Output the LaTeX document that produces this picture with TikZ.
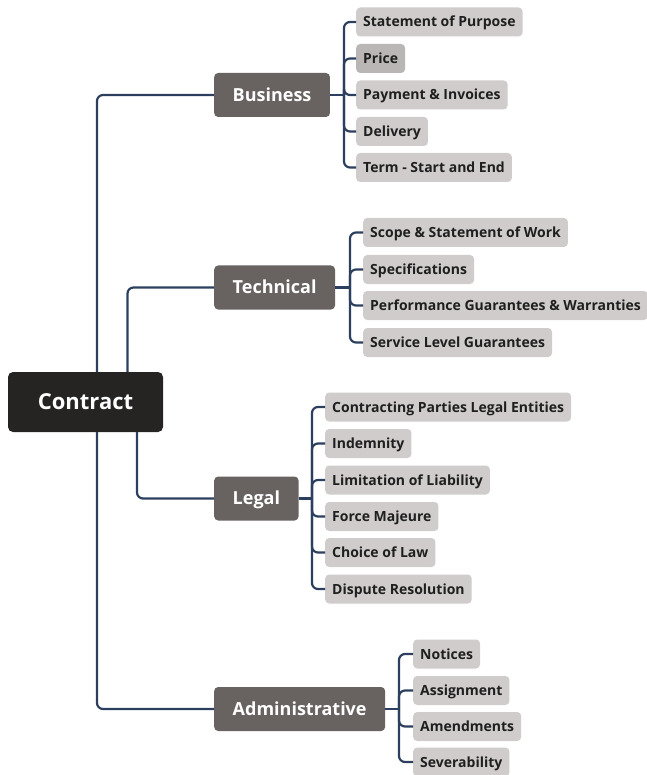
\documentclass[tikz,border=0pt]{standalone}
\usepackage{fontspec}
\setmainfont{Open Sans}
\begin{document}
\definecolor{rootfill}{HTML}{262423}
\definecolor{branchfill}{HTML}{686361}
\definecolor{leaffill}{HTML}{D0CCCB}
\definecolor{leafdark}{HTML}{BAB6B5}
\definecolor{linkcol}{HTML}{2D3F5E}
\definecolor{leaftext}{HTML}{1F1F1F}
\begin{tikzpicture}[x=1pt,y=-1pt,
  rootbox/.style={rectangle, rounded corners=5pt, fill=rootfill, text=white,
    minimum width=155pt, minimum height=60pt, inner sep=0pt,
    text height=15.7pt, text depth=0pt,
    font=\fontsize{22}{26}\selectfont\bfseries},
  branchbox/.style={rectangle, rounded corners=4pt, fill=branchfill, text=white,
    anchor=west, minimum height=44pt, inner xsep=18.5pt, inner ysep=0pt,
    text height=12.9pt, text depth=0pt,
    font=\fontsize{18}{21}\selectfont\bfseries},
  leafbox/.style={rectangle, rounded corners=4pt, fill=leaffill, text=leaftext,
    anchor=west, minimum height=29pt, inner xsep=7pt, inner ysep=0pt,
    text height=10pt, text depth=0pt,
    font=\fontsize{14}{17}\selectfont\bfseries},
  link/.style={draw=linkcol, line width=2.2pt, rounded corners=6pt},
]
\useasboundingbox (0,0) rectangle (646,775);

% root
\node[rootbox] (root) at (85.5,402) {Contract};

% main branches
\node[branchbox] (bus) at (214,95) {Business};
\node[branchbox] (tec) at (214,287.5) {Technical};
\node[branchbox] (leg) at (214,498.5) {Legal};
\node[branchbox] (adm) at (214,709) {Administrative};

% Business topics
\node[leafbox] (b1) at (356,22) {Statement of Purpose};
\node[leafbox, fill=leafdark] (b2) at (356,58.5) {Price};
\node[leafbox] (b3) at (356,95) {Payment \& Invoices};
\node[leafbox] (b4) at (356,131.5) {Delivery};
\node[leafbox] (b5) at (356,167.5) {Term - Start and End};

% Technical topics
\node[leafbox] (t1) at (363,232.5) {Scope \& Statement of Work};
\node[leafbox] (t2) at (363,269.5) {Specifications};
\node[leafbox] (t3) at (363,305.5) {Performance Guarantees \& Warranties};
\node[leafbox] (t4) at (363,342.5) {Service Level Guarantees};

% Legal topics
\node[leafbox] (l1) at (325,407) {Contracting Parties Legal Entities};
\node[leafbox] (l2) at (325,443.5) {Indemnity};
\node[leafbox] (l3) at (325,480) {Limitation of Liability};
\node[leafbox] (l4) at (325,516.5) {Force Majeure};
\node[leafbox] (l5) at (325,552.5) {Choice of Law};
\node[leafbox] (l6) at (325,589) {Dispute Resolution};

% Administrative topics
\node[leafbox] (a1) at (413,654) {Notices};
\node[leafbox] (a2) at (413,690.5) {Assignment};
\node[leafbox] (a3) at (413,726.5) {Amendments};
\node[leafbox] (a4) at (413,762) {Severability};

% root to branches
\draw[link] ([xshift=11.5pt]root.north) |- (bus.west);
\draw[link] ([xshift=42pt]root.north) |- (tec.west);
\draw[link] ([xshift=51.5pt]root.south) |- (leg.west);
\draw[link] ([xshift=11.5pt]root.south) |- (adm.west);

% branch junctions
\coordinate (bj) at (344,95);
\coordinate (tj) at (350,287.5);
\coordinate (lj) at (312,498.5);
\coordinate (aj) at (399,709);

\draw[link] (bus.east) -- (bj);
\foreach \n in {b1,b2,b3,b4,b5} \draw[link] (bj) |- (\n.west);
\draw[link] (tec.east) -- (tj);
\foreach \n in {t1,t2,t3,t4} \draw[link] (tj) |- (\n.west);
\draw[link] (leg.east) -- (lj);
\foreach \n in {l1,l2,l3,l4,l5,l6} \draw[link] (lj) |- (\n.west);
\draw[link] (adm.east) -- (aj);
\foreach \n in {a1,a2,a3,a4} \draw[link] (aj) |- (\n.west);
\end{tikzpicture}
\end{document}
